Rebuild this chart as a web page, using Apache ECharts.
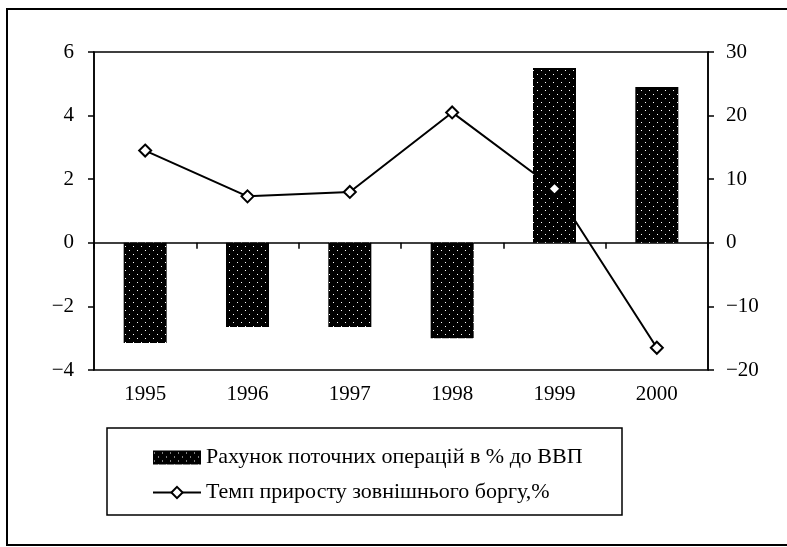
<!DOCTYPE html>
<html>
<head>
<meta charset="utf-8">
<script src="https://cdn.jsdelivr.net/npm/echarts@6/dist/echarts.min.js"></script>
<style>
  html, body { margin: 0; padding: 0; background: #fff; }
  #chart { width: 787px; height: 547px; }
</style>
</head>
<body>
<div id="chart"></div>
<script>
var years = ['1995', '1996', '1997', '1998', '1999', '2000'];
var currentAccount = [-3.15, -2.65, -2.65, -3.0, 5.5, 4.9];
var debtGrowth = [14.5, 7.3, 8, 20.5, 8.5, -16.5];
var barName = 'Рахунок поточних операцій в % до ВВП';
var lineName = 'Темп приросту зовнішнього боргу,%';

// black fill with little white dots, like the scanned bars
function dotPattern() {
  var c = document.createElement('canvas');
  c.width = 8; c.height = 8;
  var ctx = c.getContext('2d');
  ctx.fillStyle = '#000';
  ctx.fillRect(0, 0, 8, 8);
  ctx.fillStyle = '#fff';
  ctx.fillRect(1, 2, 1, 1);
  ctx.fillRect(5, 6, 1, 1);
  return c;
}

var minus = function (v) { return String(v).replace('-', '\u2212'); };
var font = 'Liberation Serif';

var chart = echarts.init(document.getElementById('chart'));
chart.setOption({
  animation: false,
  backgroundColor: '#fff',
  textStyle: { fontFamily: font, color: '#000' },
  grid: {
    left: 94, right: 79, top: 52, bottom: 177,
    show: true, borderColor: '#000', borderWidth: 1.5
  },
  graphic: [
    { type: 'rect', shape: { x: 7, y: 9, width: 800, height: 536 },
      style: { fill: 'none', stroke: '#000', lineWidth: 2 } },
    { type: 'rect', shape: { x: 107, y: 428, width: 515, height: 87 },
      style: { fill: 'none', stroke: '#000', lineWidth: 1.5 } }
  ],
  legend: {
    orient: 'vertical',
    left: 147, top: 441,
    itemWidth: 48, itemHeight: 14, itemGap: 12,
    textStyle: { fontFamily: font, fontSize: 22, color: '#000', lineHeight: 23 },
    data: [{ name: barName, icon: 'rect' }, { name: lineName }]
  },
  xAxis: [
    {
      type: 'category', data: years,
      axisLine: { onZero: true, lineStyle: { color: '#000', width: 1.5 } },
      axisTick: { show: true, length: 6, lineStyle: { color: '#000', width: 1.5 } },
      axisLabel: { show: false }
    },
    {
      type: 'category', data: years, position: 'bottom',
      axisLine: { show: false, onZero: false },
      axisTick: { show: false },
      axisLabel: { fontFamily: font, fontSize: 21, color: '#000', margin: 14 }
    }
  ],
  yAxis: [
    {
      type: 'value', min: -4, max: 6, interval: 2,
      splitLine: { show: false },
      axisLine: { show: true, lineStyle: { color: '#000', width: 1.5 } },
      axisTick: { show: true, length: 6, lineStyle: { color: '#000', width: 1.5 } },
      axisLabel: { fontFamily: font, fontSize: 21, color: '#000', margin: 20, formatter: minus }
    },
    {
      type: 'value', min: -20, max: 30, interval: 10,
      splitLine: { show: false },
      axisLine: { show: true, lineStyle: { color: '#000', width: 1.5 } },
      axisTick: { show: true, length: 6, lineStyle: { color: '#000', width: 1.5 } },
      axisLabel: { fontFamily: font, fontSize: 21, color: '#000', margin: 18, formatter: minus }
    }
  ],
  series: [
    {
      name: barName, type: 'bar', data: currentAccount,
      barWidth: 43,
      itemStyle: { color: { image: dotPattern(), repeat: 'repeat' } }
    },
    {
      name: lineName, type: 'line', yAxisIndex: 1, data: debtGrowth,
      symbol: 'diamond', symbolSize: 12, z: 5,
      lineStyle: { color: '#000', width: 2 },
      itemStyle: { color: '#fff', borderColor: '#000', borderWidth: 2 }
    }
  ]
});
</script>
</body>
</html>
